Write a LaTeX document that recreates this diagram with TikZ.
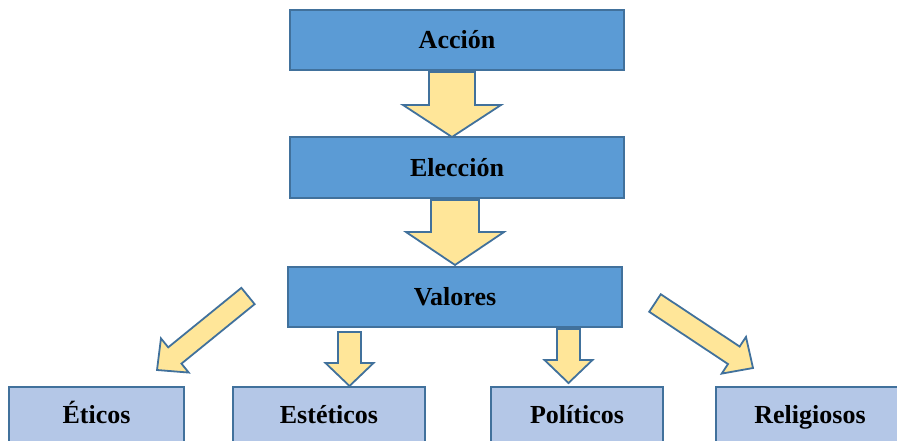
\documentclass[tikz,border=0pt]{standalone}
\usepackage{fontspec}
\setmainfont{Liberation Serif}
\usepackage{tikz}
\usetikzlibrary{calc}
\definecolor{boxblue}{HTML}{5B9BD5}
\definecolor{boxlight}{HTML}{B4C7E7}
\definecolor{edge}{HTML}{41719C}
\definecolor{arrowfill}{HTML}{FFE699}
\tikzset{
  mainbox/.style={draw=edge, line width=2pt, fill=boxblue, minimum width=334pt,
    minimum height=60pt, inner sep=0pt, text height=23pt, text depth=6pt,
    font=\fontsize{26}{30}\selectfont\bfseries},
  kindbox/.style={draw=edge, line width=2pt, fill=boxlight, minimum height=56pt,
    inner sep=0pt, text height=23pt, text depth=6pt,
    font=\fontsize{26}{30}\selectfont\bfseries},
  blockarrow/.style={draw=edge, line width=1.8pt, fill=arrowfill, line join=miter}
}
\newcommand{\BlockArrow}[5]{% tail, tip, shaft half width, head half width, head length
  \coordinate (hb) at ($(#2)!#5!(#1)$);
  \draw[blockarrow] ($(#1)!#3!90:(#2)$) -- ($(hb)!#3!-90:(#1)$) -- ($(hb)!#4!-90:(#1)$)
    -- (#2) -- ($(hb)!#4!90:(#1)$) -- ($(hb)!#3!90:(#1)$) -- ($(#1)!#3!-90:(#2)$) -- cycle;
}

\begin{document}
\begin{tikzpicture}[x=1pt, y=-1pt]
  \useasboundingbox (0,0) rectangle (897,441);
  % chain at the top
  \node[mainbox] (accion)   at (457,40.5)  {Acción};
  \node[mainbox] (eleccion) at (457,167.5) {Elección};
  \node[mainbox] (valores)  at (455,297)   {Valores};
  % kinds of values
  \node[kindbox, minimum width=175pt] (eticos)     at (96.5,415) {Éticos};
  \node[kindbox, minimum width=192pt] (esteticos)  at (329,415)  {Estéticos};
  \node[kindbox, minimum width=172pt] (politicos)  at (577,415)  {Políticos};
  \node[kindbox, minimum width=188pt] (religiosos) at (810,415)  {Religiosos};
  % arrow ends
  \coordinate (a1) at (452,72);    \coordinate (b1) at (452,137);
  \coordinate (a2) at (455,200);   \coordinate (b2) at (455,265);
  \coordinate (a3) at (248,296);   \coordinate (b3) at (157,370);
  \coordinate (a4) at (349.5,332); \coordinate (b4) at (349.5,386);
  \coordinate (a5) at (568.5,329); \coordinate (b5) at (568.5,383);
  \coordinate (a6) at (655,303);   \coordinate (b6) at (753,368);
  \BlockArrow{a1}{b1}{23pt}{49pt}{32pt}
  \BlockArrow{a2}{b2}{24pt}{49pt}{33pt}
  \BlockArrow{a3}{b3}{10.5pt}{22pt}{23pt}
  \BlockArrow{a4}{b4}{11.5pt}{24pt}{23pt}
  \BlockArrow{a5}{b5}{11.5pt}{24pt}{23pt}
  \BlockArrow{a6}{b6}{10.5pt}{22pt}{23pt}
\end{tikzpicture}
\end{document}
